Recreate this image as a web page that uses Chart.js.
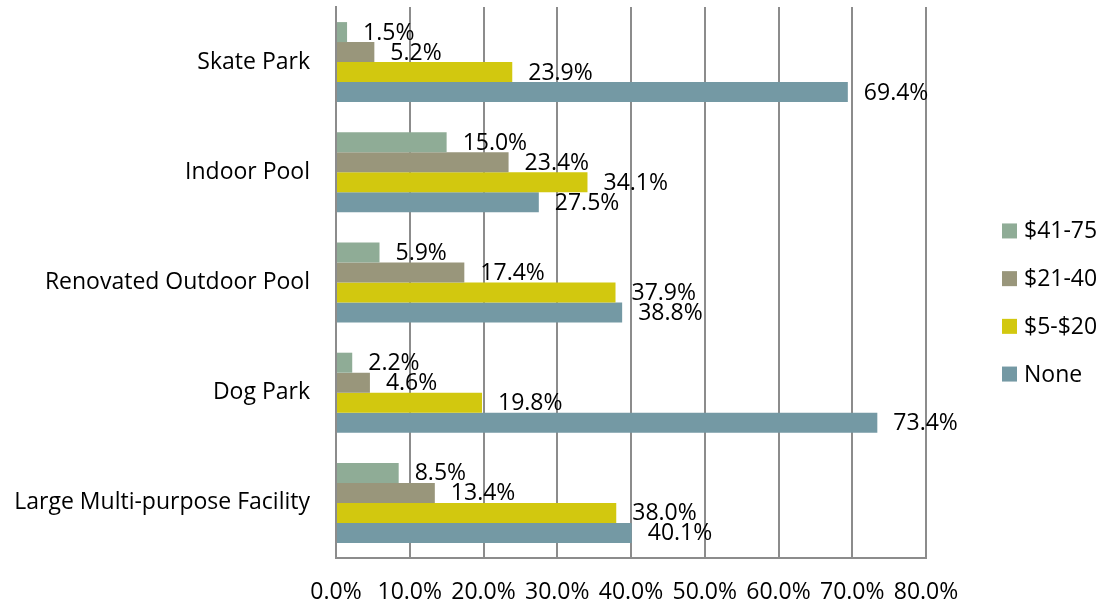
<!DOCTYPE html>
<html>
<head>
<meta charset="utf-8">
<script src="https://cdn.jsdelivr.net/npm/chart.js@4"></script>
<style>
  html, body { margin: 0; padding: 0; background: #fff; }
  #wrap { width: 1104px; height: 605px; }
</style>
</head>
<body>
<div id="wrap"><canvas id="feeChart" width="1104" height="605"></canvas></div>
<script>
const facilities = ['Skate Park', 'Indoor Pool', 'Renovated Outdoor Pool', 'Dog Park', 'Large Multi-purpose Facility'];
const fee41to75 = [1.5, 15.0, 5.9, 2.2, 8.5];
const fee21to40 = [5.2, 23.4, 17.4, 4.6, 13.4];
const fee5to20 = [23.9, 34.1, 37.9, 19.8, 38.0];
const feeNone = [69.4, 27.5, 38.8, 73.4, 40.1];

const FONT = 'Open Sans';
const FONT_SIZE = 23;

// value labels just past the end of each bar
const barLabels = {
    id: 'barLabels',
    afterDatasetsDraw(chart) {
        const ctx = chart.ctx;
        ctx.save();
        ctx.font = FONT_SIZE + 'px "' + FONT + '"';
        ctx.fillStyle = '#000';
        ctx.textAlign = 'left';
        ctx.textBaseline = 'middle';
        chart.data.datasets.forEach((ds, i) => {
            chart.getDatasetMeta(i).data.forEach((bar, j) => {
                ctx.fillText(ds.data[j].toFixed(1) + '%', bar.x + 16, bar.y + 1);
            });
        });
        ctx.restore();
    }
};

// legend on the right, drawn by hand so spacing can be set freely
const sideLegend = {
    id: 'sideLegend',
    afterDraw(chart) {
        const ctx = chart.ctx;
        const sets = chart.data.datasets;
        const step = 47.7;
        const x = chart.chartArea.right + 76;
        let y = chart.height / 2 - step * (sets.length - 1) / 2;
        ctx.save();
        ctx.font = FONT_SIZE + 'px "' + FONT + '"';
        ctx.textBaseline = 'middle';
        ctx.textAlign = 'left';
        sets.forEach(ds => {
            ctx.fillStyle = ds.backgroundColor;
            ctx.fillRect(x, y - 7.5, 15, 15);
            ctx.fillStyle = '#000';
            ctx.fillText(ds.label, x + 22, y + 1);
            y += step;
        });
        ctx.restore();
    }
};

const ctx = document.getElementById('feeChart').getContext('2d');
const feeChart = new Chart(ctx, {
    type: 'bar',
    data: {
        labels: facilities,
        datasets: [
            { label: '$41-75', backgroundColor: '#8fac96', data: fee41to75 },
            { label: '$21-40', backgroundColor: '#99967b', data: fee21to40 },
            { label: '$5-$20', backgroundColor: '#d2c80f', data: fee5to20 },
            { label: 'None', backgroundColor: '#7499a4', data: feeNone }
        ]
    },
    options: {
        indexAxis: 'y',
        responsive: false,
        animation: false,
        devicePixelRatio: 1,
        categoryPercentage: 0.726,
        barPercentage: 1.0,
        layout: { padding: { top: 7, right: 178, bottom: 0, left: 0 } },
        plugins: {
            legend: { display: false },
            tooltip: { enabled: false }
        },
        scales: {
            x: {
                min: 0,
                max: 80,
                ticks: {
                    stepSize: 10,
                    padding: 21,
                    color: '#000',
                    font: { family: FONT, size: FONT_SIZE },
                    maxRotation: 0,
                    callback: v => v.toFixed(1) + '%'
                },
                grid: { color: '#8c8c8c', lineWidth: 2, drawTicks: false },
                border: { color: '#8c8c8c', width: 2 },
                afterFit: s => { s.height = 47; }
            },
            y: {
                ticks: {
                    padding: 26,
                    color: '#000',
                    font: { family: FONT, size: FONT_SIZE }
                },
                grid: { display: false, drawTicks: false },
                border: { color: '#8c8c8c', width: 2 },
                afterFit: s => {
                    s.width = 336;
                    s.paddingTop = 0;
                    s.paddingBottom = 0;
                }
            }
        }
    },
    plugins: [barLabels, sideLegend]
});
</script>
</body>
</html>
